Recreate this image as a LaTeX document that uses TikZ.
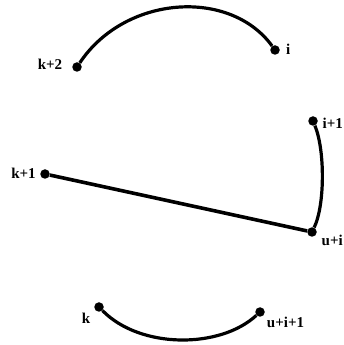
\documentclass[tikz,border=0pt]{standalone}
\usepackage{fontspec}
\setmainfont{Liberation Serif}
\begin{document}
\begin{tikzpicture}[x=1pt,y=1pt,
  dot/.style={circle,fill=black,inner sep=0pt,minimum size=9.5pt},
  lbl/.style={font=\bfseries\fontsize{15}{15}\selectfont,inner sep=0pt},
  arc/.style={line width=3.2pt},
  bar/.style={line width=3.6pt}]
\useasboundingbox (0,0) rectangle (343,345);
% dots
\node[dot] (k2) at (77,278) {};
\node[dot] (i) at (275,295) {};
\node[dot] (i1) at (313,224) {};
\node[dot] (k1) at (45,171) {};
\node[dot] (ui) at (312,113) {};
\node[dot] (k) at (99,38) {};
\node[dot] (ui1) at (260,33) {};
% labels
\node[lbl] (lk2) at (50,281) {k+2};
\node[lbl,anchor=west] (li) at (286,296) {i};
\node[lbl,anchor=east] (li1) at (343,222) {i+1};
\node[lbl] (lk1) at (23.5,172) {k+1};
\node[lbl,anchor=east] (lui) at (343,105) {u+i};
\node[lbl] (lk) at (86,27) {k};
\node[lbl] (lui1) at (285.5,23) {u+i+1};
% connectors
\draw[arc] (k2) .. controls (125,350) and (230,357) .. (i);
\draw[arc] (i1) .. controls (325,195) and (325,140) .. (ui);
\draw[bar] (k1) -- (ui);
\draw[arc] (k) .. controls (140,-4) and (220,-4) .. (ui1);
\end{tikzpicture}
\end{document}
